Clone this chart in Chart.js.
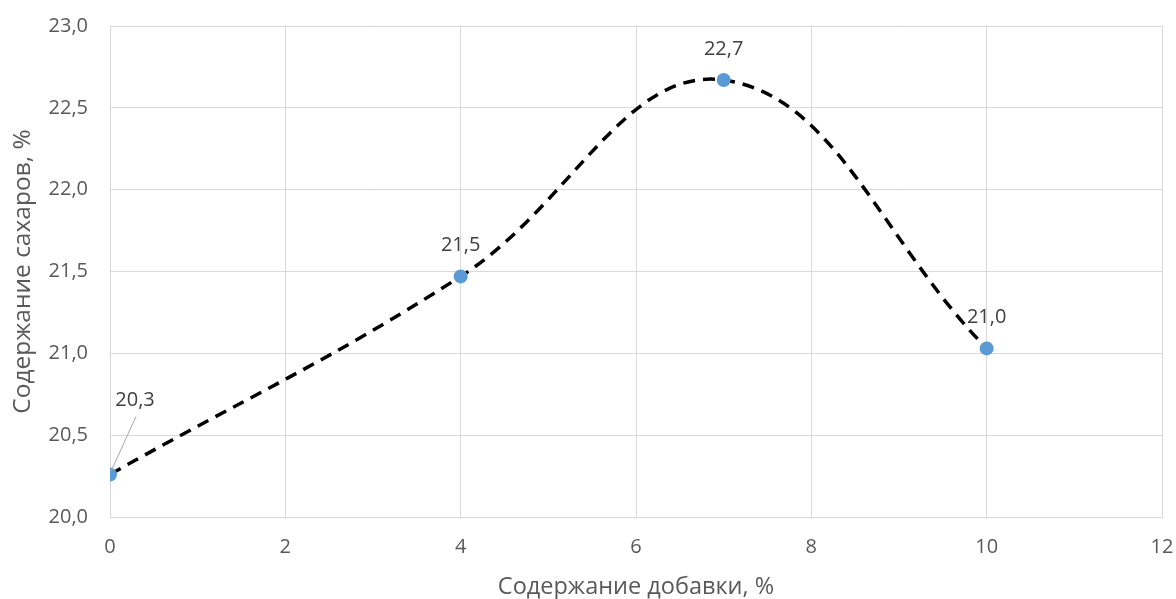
<!DOCTYPE html>
<html>
<head>
<meta charset="utf-8">
<script src="https://cdn.jsdelivr.net/npm/chart.js@4/dist/chart.umd.min.js"></script>
<style>
	html, body { margin: 0; padding: 0; background: #fff; }
	#wrap { width: 1176px; height: 599px; }
</style>
</head>
<body>
<div id="wrap"><canvas id="mainChart" width="1176" height="599"></canvas></div>
<script>
// data
const additive = [0, 4, 7, 10];
const sugars = [20.26, 21.47, 22.67, 21.03];
const xTicks = [0, 2, 4, 6, 8, 10, 12];
const yTicks = [20.0, 20.5, 21.0, 21.5, 22.0, 22.5, 23.0];

const xTitle = 'Содержание добавки, %';
const yTitle = 'Содержание сахаров, %';

const fmt = v => v.toFixed(1).replace('.', ',');

// data labels drawn above points (first one with leader line)
const pointLabels = {
	id: 'pointLabels',
	afterDatasetsDraw(chart) {
		const ctx = chart.ctx;
		const meta = chart.getDatasetMeta(0);
		ctx.save();
		ctx.font = '20px "Open Sans", sans-serif';
		ctx.fillStyle = '#404040';
		ctx.textAlign = 'center';
		ctx.textBaseline = 'middle';
		meta.data.forEach((pt, i) => {
			const text = fmt(sugars[i]);
			if (i === 0) {
				ctx.strokeStyle = '#a6a6a6';
				ctx.lineWidth = 1;
				ctx.beginPath();
				ctx.moveTo(pt.x + 1, pt.y - 3);
				ctx.lineTo(pt.x + 26, pt.y - 58);
				ctx.stroke();
				ctx.fillText(text, pt.x + 25, pt.y - 74);
			} else {
				ctx.fillText(text, pt.x, pt.y - 31);
			}
		});
		ctx.restore();
	}
};

function initChart() {
	const ctx = document.getElementById('mainChart');
	if (!ctx) return;

	new Chart(ctx, {
		type: 'scatter',
		data: {
			datasets: [{
				data: additive.map((x, i) => ({ x: x, y: sugars[i] })),
				showLine: true,
				borderColor: '#000000',
				borderWidth: 3.5,
				borderDash: [12, 8],
				tension: 0.4,
				pointRadius: 7,
				pointHoverRadius: 7,
				pointBackgroundColor: '#5b9bd5',
				pointBorderColor: '#5b9bd5',
				pointBorderWidth: 0
			}]
		},
		options: {
			responsive: false,
			animation: false,
			layout: { padding: { top: 26, right: 14, left: 0, bottom: 0 } },
			plugins: {
				legend: { display: false },
				tooltip: { enabled: false }
			},
			scales: {
				x: {
					type: 'linear',
					min: 0,
					max: 12,
					afterBuildTicks: axis => { axis.ticks = xTicks.map(v => ({ value: v })); },
					afterFit: axis => {
						axis.height = 82;
						axis.paddingLeft = 0;
						axis.paddingRight = 0;
					},
					grid: { color: '#d9d9d9', lineWidth: 1, drawTicks: false },
					border: { color: '#d9d9d9', width: 1 },
					ticks: {
						color: '#595959',
						font: { family: '"Open Sans", sans-serif', size: 20 },
						padding: 18,
						callback: v => String(v)
					},
					title: {
						display: true,
						text: xTitle,
						color: '#595959',
						font: { family: '"Open Sans", sans-serif', size: 23.5, lineHeight: 1 },
						padding: { top: 10, bottom: 0 }
					}
				},
				y: {
					type: 'linear',
					min: 20,
					max: 23,
					afterBuildTicks: axis => { axis.ticks = yTicks.map(v => ({ value: v })); },
					afterFit: axis => {
						axis.width = 110;
						axis.paddingTop = 0;
						axis.paddingBottom = 0;
					},
					grid: { color: '#d9d9d9', lineWidth: 1, drawTicks: false },
					border: { color: '#d9d9d9', width: 1 },
					ticks: {
						color: '#595959',
						font: { family: '"Open Sans", sans-serif', size: 20 },
						padding: 22,
						callback: v => fmt(v)
					},
					title: {
						display: true,
						text: yTitle,
						color: '#595959',
						font: { family: '"Open Sans", sans-serif', size: 24.5 },
						padding: { top: 8, bottom: 0 }
					}
				}
			}
		},
		plugins: [pointLabels]
	});
}

document.addEventListener('DOMContentLoaded', initChart);
</script>
</body>
</html>
